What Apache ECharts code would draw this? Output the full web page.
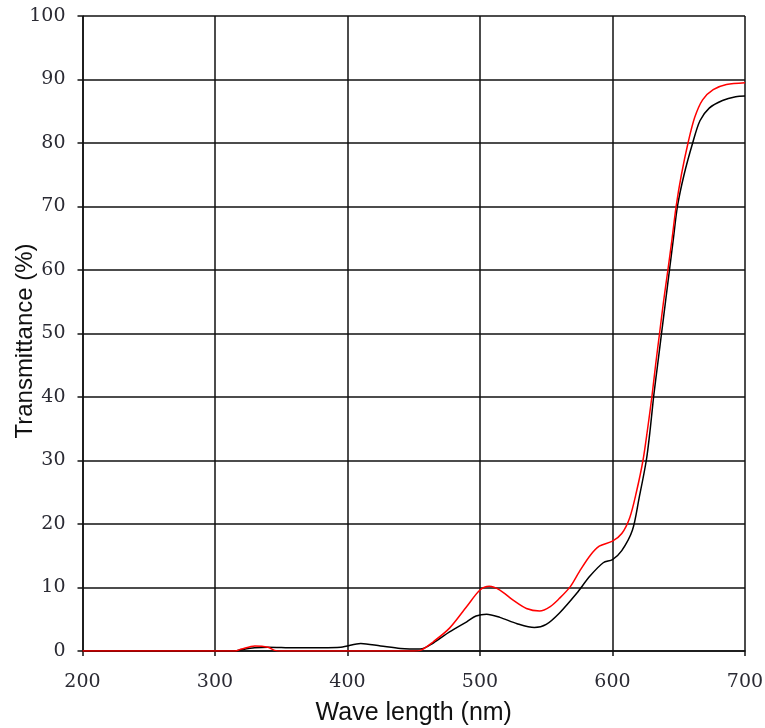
<!DOCTYPE html>
<html>
<head>
<meta charset="utf-8">
<script src="https://cdn.jsdelivr.net/npm/echarts@6/dist/echarts.min.js"></script>
<style>
  html, body { margin: 0; padding: 0; background: #fff; }
  #chart { width: 765px; height: 728px; }
</style>
</head>
<body>
<div id="chart"></div>
<script>
// wavelength (nm) / transmittance (%)
const redWave = [200, 310, 315, 320, 330, 340, 345, 350, 450, 455, 465, 477, 490, 500, 507, 515, 525, 535, 545, 553, 560, 568, 575, 583, 590, 600, 607, 613, 618, 623, 626.5, 629.7, 632.5, 635.5, 638.5, 641.8, 645, 648, 652, 657, 662, 668, 676, 686, 700];
const redTrans = [0, 0, 0, 0.3, 0.8, 0.6, 0.1, 0, 0, 0.1, 1.5, 3.6, 7.0, 9.6, 10.2, 9.6, 8.0, 6.7, 6.3, 7.0, 8.3, 10.1, 12.5, 15.0, 16.5, 17.3, 18.5, 21, 25, 30, 35, 40, 45, 50, 55, 60, 65, 70, 75, 80, 84, 86.8, 88.4, 89.2, 89.5];

const blackWave = [200, 315, 320, 330, 340, 360, 395, 410, 425, 440, 455, 465, 477, 490, 497, 505, 515, 528, 541, 550, 560, 573, 583, 593, 600, 607, 615, 620, 625.5, 628.5, 631, 634, 637, 640, 643, 646, 649, 654, 660.5, 666, 673, 683, 693, 700];
const blackTrans = [0, 0, 0.2, 0.5, 0.6, 0.5, 0.6, 1.2, 0.8, 0.4, 0.3, 1.3, 3.0, 4.6, 5.5, 5.8, 5.3, 4.3, 3.7, 4.2, 6.0, 9.1, 11.8, 13.9, 14.4, 15.8, 19, 24, 30, 35, 40, 45, 50, 55, 60, 65, 70, 75, 80, 83.5, 85.5, 86.7, 87.3, 87.4];

const pairs = (xs, ys) => xs.map((x, i) => [x, ys[i]]);

const chart = echarts.init(document.getElementById('chart'));

const tickLabel = { color: '#2a2a33', fontFamily: 'DejaVu Serif, serif', fontSize: 19 };
const nameFont = 'Liberation Sans, Arial, sans-serif';
const gridLine = { lineStyle: { color: '#111', width: 1.5 } };

chart.setOption({
    backgroundColor: '#fff',
    animation: false,
    grid: { left: 82.5, right: 20, top: 16, bottom: 77, containLabel: false, outerBoundsMode: 'none' },
    xAxis: {
        type: 'value', min: 200, max: 700, interval: 100,
        name: 'Wave length (nm)', nameLocation: 'middle', nameGap: 50, nameMoveOverlap: false,
        nameTextStyle: { color: '#111', fontFamily: nameFont, fontSize: 25 },
        axisLine: { show: true, lineStyle: { color: '#111', width: 1.5 } },
        axisTick: { show: true, length: 5, lineStyle: { color: '#111', width: 1.5 } },
        axisLabel: Object.assign({ margin: 22 }, tickLabel),
        splitLine: Object.assign({ show: true }, gridLine)
    },
    yAxis: {
        type: 'value', min: 0, max: 100, interval: 10,
        name: 'Transmittance (%)', nameLocation: 'middle', nameGap: 45, nameMoveOverlap: false,
        nameTextStyle: { color: '#111', fontFamily: nameFont, fontSize: 24, padding: [0, 15, 0, 0] },
        axisLine: { show: true, lineStyle: { color: '#111', width: 1.5 } },
        axisTick: { show: true, length: 5, lineStyle: { color: '#111', width: 1.5 } },
        axisLabel: Object.assign({ margin: 17 }, tickLabel),
        splitLine: Object.assign({ show: true }, gridLine)
    },
    series: [
        {
            name: 'black', type: 'line', data: pairs(blackWave, blackTrans),
            smooth: 0.3, showSymbol: false,
            lineStyle: { color: '#000', width: 1.5 }
        },
        {
            name: 'red', type: 'line', data: pairs(redWave, redTrans),
            smooth: 0.3, showSymbol: false,
            lineStyle: { color: '#ff0000', width: 1.5 }
        }
    ]
});
</script>
</body>
</html>
